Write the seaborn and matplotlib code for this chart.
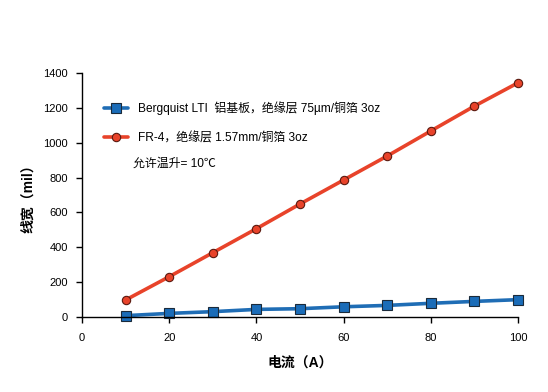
import matplotlib
matplotlib.use("Agg")
import matplotlib.pyplot as plt
import seaborn as sns
import pandas as pd

current = [10, 20, 30, 40, 50, 60, 70, 80, 90, 100]
width_bergquist = [6, 19, 29, 42, 46, 57, 65, 77, 88, 98]
width_fr4 = [96, 230, 368, 506, 648, 786, 924, 1068, 1211, 1345]
label_bergquist = "Bergquist LTI  铝基板，绝缘层 75µm/铜箔 3oz"
label_fr4 = "FR-4，绝缘层 1.57mm/铜箔 3oz"
note_text = "允许温升= 10℃"
x_ticks = [0, 20, 40, 60, 80, 100]
y_ticks = [0, 200, 400, 600, 800, 1000, 1200, 1400]

sns.set_style("white")
plt.rcParams['font.family'] = ['Liberation Sans', 'Noto Sans CJK SC', 'DejaVu Sans']
plt.rcParams['text.color'] = 'black'
plt.rcParams['axes.labelcolor'] = 'black'

fig = plt.figure(figsize=(5.48, 3.92), dpi=100)
ax = fig.add_axes([0.1496, 0.1921, 0.7956, 0.621])

df_b = pd.DataFrame({"x": current, "y": width_bergquist})
df_r = pd.DataFrame({"x": current, "y": width_fr4})

blue = "#1f6db5"
red = "#e8432a"
sns.lineplot(data=df_b, x="x", y="y", ax=ax, color=blue, lw=2.6, marker="s",
             markersize=7, markerfacecolor="#1a6cb8", markeredgecolor="#1a2a3a",
             markeredgewidth=0.8, label=label_bergquist, clip_on=False)
sns.lineplot(data=df_r, x="x", y="y", ax=ax, color=red, lw=2.6, marker="o",
             markersize=6, markerfacecolor="#e8432a", markeredgecolor="#5a1a10",
             markeredgewidth=0.8, label=label_fr4, clip_on=False)

ax.set_xlim(0, 100)
ax.set_ylim(0, 1400)
ax.set_xticks(x_ticks)
ax.set_yticks(y_ticks)
ax.tick_params(axis='both', which='both', direction='out', length=4, width=1,
               colors='black', labelsize=8, bottom=True, left=True)
ax.tick_params(axis='x', pad=8)
ax.tick_params(axis='y', pad=6)
for s in ["top", "right"]:
    ax.spines[s].set_visible(False)
for s in ["left", "bottom"]:
    ax.spines[s].set_color("black")
    ax.spines[s].set_linewidth(1)

ax.set_xlabel("电流（A）", fontsize=10, fontweight="bold", labelpad=9)
ax.set_ylabel("线宽（mil）", fontsize=10, fontweight="bold", labelpad=6)

leg = ax.legend(loc="upper left", bbox_to_anchor=(0.025, 0.93), frameon=False,
                fontsize=8.6, handlelength=2.0, handletextpad=0.9, labelspacing=1.45)
for t in leg.get_texts():
    t.set_color("black")
ax.text(0.118, 0.627, note_text, transform=ax.transAxes, fontsize=8.6, va="center")

fig.savefig("out.png", dpi=100)
